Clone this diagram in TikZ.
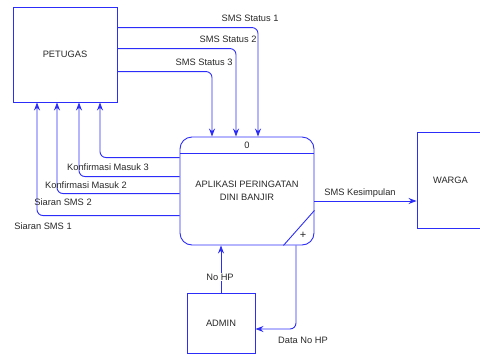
\documentclass[tikz,border=0pt]{standalone}
\usepackage{fontspec}
\setmainfont{Liberation Sans}
\usetikzlibrary{arrows.meta, positioning, calc}
\definecolor{dfdblue}{RGB}{45,45,250}
\definecolor{dfdtext}{RGB}{40,40,40}

\tikzset{
    entity/.style={draw=dfdblue, line width=0.9pt, fill=white, inner sep=0pt, text=dfdtext},
    process/.style={draw=dfdblue, line width=0.9pt, rounded corners=12pt, inner sep=0pt, text=dfdtext, align=center},
    flow/.style={draw=dfdblue, line width=0.9pt, rounded corners=6pt, -{Stealth[length=8pt,width=6pt]}},
    flowlabel/.style={text=dfdtext, inner sep=0pt}
}

\begin{document}
\begin{tikzpicture}[x=1pt, y=-1pt, font=\fontsize{9.3}{11}\selectfont]
        \useasboundingbox (0,0) rectangle (480,354);

        % External entities
        \node[entity, minimum width=104pt, minimum height=95pt] (petugas) at (65,54.5) {PETUGAS};
        \node[entity, minimum width=67pt, minimum height=96pt] (warga) at (450.5,180) {WARGA};
        \node[entity, minimum width=68pt, minimum height=60pt] (admin) at (221,323) {ADMIN};

        % Process
        \node[process, minimum width=134pt, minimum height=108pt] (proc) at (247,191)
            {APLIKASI PERINGATAN\\[2pt]DINI BANJIR};
        \draw[dfdblue, line width=0.9pt] ([yshift=-17pt]proc.north west) -- ([yshift=-17pt]proc.north east);
        \draw[dfdblue, line width=0.9pt] ([yshift=35pt]proc.south east) -- ([xshift=-31pt]proc.south east);
        \node[flowlabel] (procid) at (247,145) {0};
        \node[flowlabel, font=\fontsize{11}{11}\selectfont] (plus) at (303,235) {+};

        % Flows from petugas
        \draw[flow] ([yshift=-21pt]petugas.north east) -| ([xshift=11pt]proc.north);
        \draw[flow] ([yshift=-42pt]petugas.north east) -| ([xshift=-11pt]proc.north);
        \draw[flow] ([yshift=-65pt]petugas.north east) -| ([xshift=-35pt]proc.north);
        \node[flowlabel] (s1) at (250,18) {SMS Status 1};
        \node[flowlabel] (s2) at (228,39) {SMS Status 2};
        \node[flowlabel] (s3) at (204,62) {SMS Status 3};

        % Flows to petugas
        \draw[flow] ([yshift=-21pt]proc.north west) -| ([xshift=35pt]petugas.south);
        \draw[flow] ([yshift=-40pt]proc.north west) -| ([xshift=14pt]petugas.south);
        \draw[flow] ([yshift=-57pt]proc.north west) -| ([xshift=-8pt]petugas.south);
        \draw[flow] ([yshift=-79pt]proc.north west) -| ([xshift=-28pt]petugas.south);
        \node[flowlabel] (k3) at (108,167) {Konfirmasi Masuk 3};
        \node[flowlabel] (k2) at (86,185) {Konfirmasi Masuk 2};
        \node[flowlabel] (sr2) at (63,202) {Siaran SMS 2};
        \node[flowlabel] (sr1) at (43,226) {Siaran SMS 1};

        % Flow to warga
        \draw[flow] ([yshift=-10pt]proc.east) -- ([yshift=-10pt]proc.east -| warga.west);
        \node[flowlabel] (kes) at (360,193) {SMS Kesimpulan};

        % Flows with admin
        \draw[flow] (admin.north) -- (admin.north |- proc.south);
        \node[flowlabel, fill=white, inner sep=1pt] (nohp) at (220,277) {No HP};
        \draw[flow] ([xshift=49pt]proc.south) |- ([yshift=-6pt]admin.east);
        \node[flowlabel] (datahp) at (303,340) {Data No HP};
    \end{tikzpicture}
\end{document}
